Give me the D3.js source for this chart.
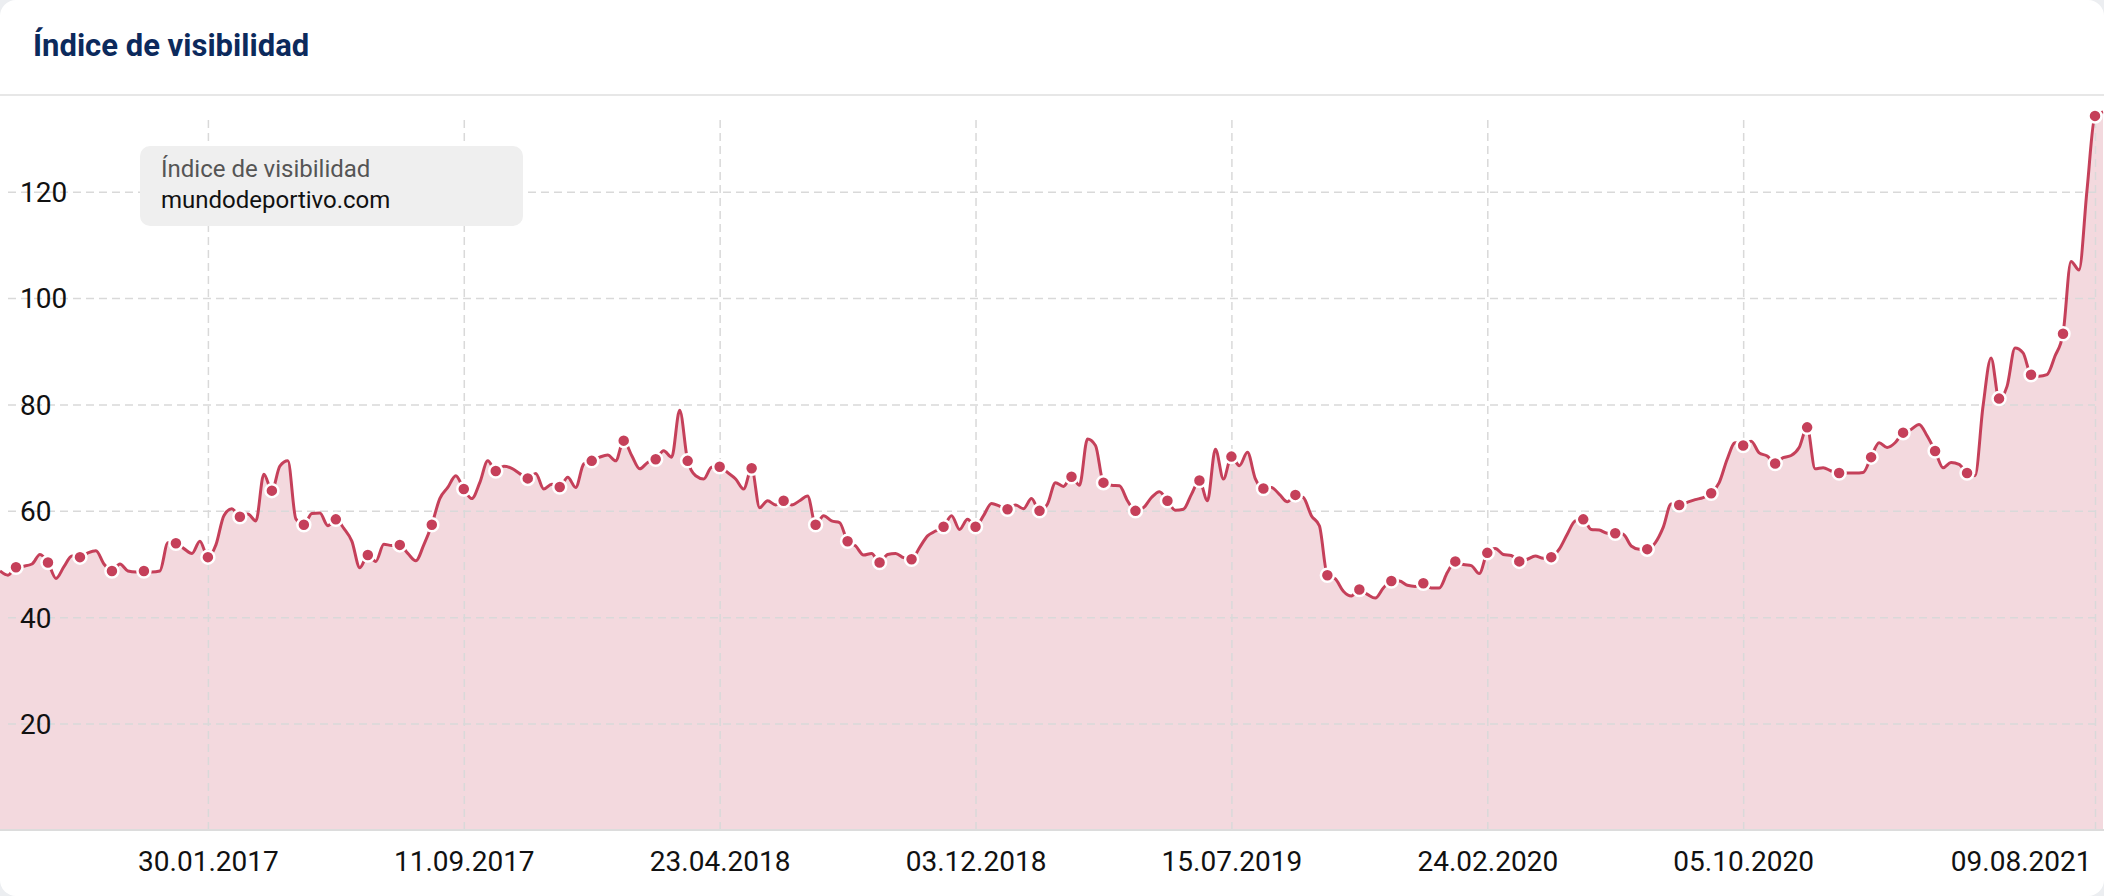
<!DOCTYPE html>
<html>
<head>
<meta charset="utf-8">
<title>Índice de visibilidad</title>
<style>
html, body {
  margin: 0;
  padding: 0;
  background: #eceef1;
  font-family: 'Roboto', sans-serif;
}
svg { display: block; }
.grid line { stroke: #d9d9d9; stroke-width: 1.5px; stroke-dasharray: 8,5; }
.grid .domain { display: none; }
.lbl .domain { display: none; }
.lbl text { font-family: 'Roboto', sans-serif; font-size: 28px; fill: #111; }
</style>
<script src="https://d3js.org/d3.v7.min.js"></script>
</head>
<body>
<svg width="2104" height="896"></svg>
<script>

// weekly visibility values (mondays), starting 01.08.2016
var startDate = "01.08.2016";
var values2016 = [48.7, 47.9, 49.4, 49.6, 50.0, 51.8, 50.3, 47.3, 49.5, 51.5, 51.3, 52.1, 52.5, 50.0, 48.7, 50.0,
  48.7, 48.5, 48.7, 48.5, 48.7, 54.0];
var values2017 = [53.9, 52.9, 52.0, 54.3, 51.3, 53.6, 59.1, 60.4, 58.9, 59.4, 58.1, 66.9, 63.8, 68.4, 69.4, 58.5,
  57.4, 59.5, 59.6, 57.2, 58.4, 56.7, 54.3, 49.3, 51.7, 50.5, 53.7, 53.5, 53.6, 52.0, 50.6, 53.6,
  57.4, 62.3, 64.4, 66.6, 64.1, 62.3, 65.3, 69.4, 67.5, 68.4, 68.0, 67.0, 66.1, 67.0, 64.1, 65.0,
  64.5, 66.3, 64.4, 68.8];
var values2018 = [69.4, 70.1, 70.5, 69.4, 73.2, 70.4, 67.9, 69.1, 69.7, 71.3, 70.1, 78.9, 69.4, 66.6, 66.0, 68.2,
  68.3, 67.2, 66.0, 64.1, 68.0, 60.6, 61.9, 61.1, 61.9, 61.1, 61.9, 62.8, 57.4, 59.1, 58.1, 57.8,
  54.3, 53.4, 51.7, 52.0, 50.3, 51.8, 52.0, 51.2, 50.9, 53.1, 55.3, 56.2, 57.0, 59.1, 56.5, 58.4,
  57.0, 59.1, 61.4, 60.9, 60.3];
var values2019 = [61.1, 60.4, 62.3, 60.0, 61.3, 65.3, 64.6, 66.4, 64.8, 73.5, 72.3, 65.3, 64.8, 64.7, 61.9, 60.0,
  60.6, 62.5, 63.6, 61.9, 60.1, 60.3, 63.1, 65.7, 61.9, 71.6, 66.0, 70.2, 68.5, 71.0, 66.0, 64.2,
  64.4, 63.1, 61.7, 63.0, 62.5, 59.1, 57.2, 47.9, 47.2, 44.9, 44.0, 45.2, 44.3, 43.6, 45.5, 46.8,
  46.8, 46.0, 45.8, 46.4];
var values2020 = [45.5, 45.5, 48.4, 50.5, 49.9, 49.7, 48.2, 52.1, 52.9, 51.8, 51.6, 50.5, 50.9, 51.5, 51.1, 51.3,
  52.8, 55.6, 58.1, 58.4, 56.5, 56.4, 55.8, 55.8, 55.6, 53.4, 52.8, 52.8, 54.0, 56.9, 61.3, 61.1,
  61.6, 62.1, 62.5, 63.3, 65.3, 69.7, 72.8, 72.3, 73.1, 70.9, 70.3, 68.9, 70.0, 70.4, 71.9, 75.7,
  67.9, 68.1, 67.5, 67.1];
var values2021 = [67.1, 67.1, 67.2, 70.1, 72.8, 71.9, 72.8, 74.7, 75.3, 76.25, 74.1, 71.25, 68.1, 69.1, 68.75, 67.1,
  66.6, 79.7, 88.75, 81.1, 83.4, 90.6, 89.7, 85.6, 85.3, 85.6, 89.1, 93.3, 106.9, 105.3, 120.3, 134.25,
  135.0];

var xTickLabels = ["30.01.2017", "11.09.2017", "23.04.2018", "03.12.2018", "15.07.2019", "24.02.2020", "05.10.2020", "09.08.2021"];
var yTicks = [20, 40, 60, 80, 100, 120];
var seriesName = "Índice de visibilidad";
var domainName = "mundodeportivo.com";

var parse = d3.timeParse("%d.%m.%Y"),
    fmt = d3.timeFormat("%d.%m.%Y");

var allValues = [].concat(values2016, values2017, values2018, values2019, values2020, values2021);
var t0 = parse(startDate);
var data = allValues.map(function(v, i) {
  return { date: d3.timeWeek.offset(t0, i), value: v, marker: (i - 2) % 4 === 0 && i <= 262 };
});
var tickDates = xTickLabels.map(parse);

var svg = d3.select("svg"),
    width = +svg.attr("width"),
    height = +svg.attr("height");

var red = "#c5405a";
var plotTop = 116, plotBottom = 830;

// card
svg.append("rect")
    .attr("width", width).attr("height", height)
    .attr("rx", 16).attr("fill", "#fff");

svg.append("text")
    .attr("x", 33).attr("y", 56)
    .attr("font-family", "Roboto, sans-serif")
    .attr("font-weight", 700)
    .attr("font-size", 31)
    .attr("fill", "#0c2a5c")
    .text(seriesName);

svg.append("line")
    .attr("x1", 0).attr("x2", width)
    .attr("y1", 95).attr("y2", 95)
    .attr("stroke", "#e7e7e7").attr("stroke-width", 2);

var x = d3.scaleTime()
    .domain([t0, tickDates[tickDates.length - 1]])
    .range([0, 2095]);

var y = d3.scaleLinear()
    .domain([0, 120])
    .range([plotBottom, 191.7]);

svg.append("clipPath").attr("id", "clip")
  .append("rect")
    .attr("x", 0).attr("y", 96)
    .attr("width", width).attr("height", plotBottom - 96);

// area
var area = d3.area()
    .x(function(d) { return x(d.date); })
    .y0(plotBottom)
    .y1(function(d) { return y(d.value); })
    .curve(d3.curveMonotoneX);

svg.append("path")
    .datum(data)
    .attr("clip-path", "url(#clip)")
    .attr("fill", red)
    .attr("fill-opacity", 0.2)
    .attr("d", area);

// grid
svg.append("g")
    .attr("class", "grid")
    .attr("transform", "translate(8,0)")
    .call(d3.axisLeft(y).tickValues(yTicks).tickSize(-(2095 - 8)).tickFormat(""));

svg.append("g")
    .attr("class", "grid")
    .attr("transform", "translate(0," + plotBottom + ")")
    .call(d3.axisBottom(x).tickValues(tickDates).tickSize(-(plotBottom - plotTop)).tickFormat(""));

svg.append("line")
    .attr("x1", 0).attr("x2", width)
    .attr("y1", plotBottom).attr("y2", plotBottom)
    .attr("stroke", "#dcdcdc").attr("stroke-width", 2);

// line
var line = d3.line()
    .x(function(d) { return x(d.date); })
    .y(function(d) { return y(d.value); })
    .curve(d3.curveMonotoneX);

svg.append("path")
    .datum(data)
    .attr("clip-path", "url(#clip)")
    .attr("fill", "none")
    .attr("stroke", red)
    .attr("stroke-width", 3)
    .attr("stroke-linejoin", "round")
    .attr("d", line);

svg.append("g")
    .selectAll("circle")
    .data(data.filter(function(d) { return d.marker; }))
    .enter().append("circle")
      .attr("cx", function(d) { return x(d.date); })
      .attr("cy", function(d) { return y(d.value); })
      .attr("r", 6.5)
      .attr("fill", red)
      .attr("stroke", "#fff")
      .attr("stroke-width", 2.5);

// axis labels
var yl = svg.append("g")
    .attr("class", "lbl")
    .call(d3.axisRight(y).tickValues(yTicks).tickSize(0).tickPadding(20));
yl.selectAll("text").attr("dy", "0.35em");

var xl = svg.append("g")
    .attr("class", "lbl")
    .attr("transform", "translate(0," + plotBottom + ")")
    .call(d3.axisBottom(x).tickValues(tickDates).tickSize(0).tickPadding(21).tickFormat(fmt));
// keep the last label inside the card
xl.selectAll(".tick").filter(function(d, i) { return i === tickDates.length - 1; })
  .select("text")
    .attr("text-anchor", "end")
    .attr("x", -4);

// legend box
var lg = svg.append("g").attr("transform", "translate(140,146)");
lg.append("rect")
    .attr("width", 383).attr("height", 80)
    .attr("rx", 10)
    .attr("fill", "#efefef");
lg.append("text")
    .attr("x", 21).attr("y", 31)
    .attr("font-family", "Roboto, sans-serif")
    .attr("font-size", 24)
    .attr("fill", "#555")
    .text(seriesName);
lg.append("text")
    .attr("x", 21).attr("y", 62)
    .attr("font-family", "Roboto, sans-serif")
    .attr("font-size", 24)
    .attr("fill", "#111")
    .text(domainName);

</script>
</body>
</html>
